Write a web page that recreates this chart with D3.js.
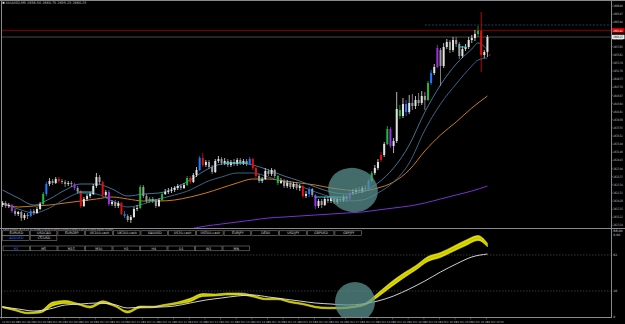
<!DOCTYPE html>
<html>
<head>
<meta charset="utf-8">
<script src="https://cdn.jsdelivr.net/npm/d3@7"></script>
<style>
body{margin:0;background:#000;}
svg{display:block;font-family:'DejaVu Sans',sans-serif;}
</style>
</head>
<body>
<script>
var open = [2618.25,2618.75,2618.0,2618.25,2616.75,2616.0,2616.5,2615.0,2615.75,2615.5,
2616.75,2616.25,2617.25,2618.5,2621.0,2623.5,2624.25,2623.75,2624.75,2624.25,
2624.0,2623.5,2623.75,2623.5,2622.5,2621.75,2618.0,2619.75,2620.5,2621.0,
2623.0,2625.25,2624.0,2620.75,2621.5,2618.5,2619.0,2618.0,2618.75,2616.0,
2615.5,2614.5,2615.25,2617.25,2617.5,2622.75,2620.5,2619.25,2619.75,2619.25,
2618.0,2619.5,2621.0,2621.5,2621.75,2622.0,2622.5,2623.0,2622.5,2623.25,
2625.0,2624.0,2625.75,2627.0,2630.0,2628.25,2629.0,2627.75,2626.5,2629.25,
2629.75,2628.75,2629.25,2628.25,2629.0,2628.5,2629.5,2628.75,2629.25,2628.5,
2629.75,2627.5,2625.5,2624.25,2624.75,2626.75,2626.0,2627.0,2625.5,2623.75,
2624.25,2623.0,2623.75,2622.75,2623.5,2622.5,2623.0,2620.5,2621.0,2622.25,
2620.75,2618.0,2619.25,2618.25,2619.75,2619.25,2620.0,2619.0,2619.75,2619.5,
2620.25,2619.75,2621.25,2621.5,2622.0,2621.75,2622.5,2622.25,2624.25,2626.25,
2627.5,2629.5,2630.75,2633.5,2637.25,2633.0,2634.25,2642.0,2640.5,2643.5,
2641.5,2643.75,2643.0,2644.5,2643.75,2645.5,2644.5,2648.75,2651.25,2652.75,
2657.0,2653.0,2657.75,2659.0,2657.0,2659.5,2658.5,2655.5,2657.25,2657.75,
2659.5,2660.0,2661.0,2661.75,2655.75,2656.5];
var high = [2619.25,2619.25,2618.75,2618.5,2617.25,2616.75,2616.75,2616.25,2616.25,2617.25,
2617.25,2617.75,2619.0,2621.5,2624.0,2625.0,2624.75,2625.25,2625.25,2624.75,
2624.5,2624.25,2624.25,2623.75,2623.0,2622.0,2620.25,2621.0,2621.5,2623.5,
2626.25,2625.75,2624.25,2622.0,2622.0,2619.5,2619.5,2619.25,2619.0,2616.75,
2616.0,2615.75,2617.75,2618.25,2623.25,2623.25,2621.0,2620.25,2620.25,2619.75,
2620.0,2621.5,2622.25,2622.5,2622.75,2623.0,2623.5,2623.5,2623.75,2625.5,
2625.5,2626.25,2627.75,2630.5,2631.25,2629.5,2629.5,2628.25,2629.75,2630.5,
2630.25,2630.0,2629.75,2629.5,2629.75,2630.0,2630.0,2629.75,2629.75,2630.25,
2630.0,2627.75,2626.0,2625.25,2627.5,2627.25,2627.5,2627.25,2625.75,2625.0,
2624.75,2624.5,2624.25,2624.0,2624.0,2623.5,2623.25,2621.75,2622.75,2622.5,
2621.0,2619.75,2619.75,2620.25,2620.5,2620.5,2620.5,2620.25,2620.25,2620.75,
2620.75,2621.75,2622.25,2622.5,2622.75,2623.0,2623.25,2624.75,2626.75,2628.25,
2629.75,2631.5,2634.0,2638.0,2637.75,2635.0,2646.5,2643.25,2645.0,2644.5,
2645.75,2646.0,2645.5,2646.25,2646.75,2646.5,2649.25,2652.0,2653.5,2658.25,
2657.5,2658.75,2659.75,2659.5,2660.25,2660.25,2659.0,2658.0,2658.5,2660.25,
2660.75,2662.0,2663.0,2666.5,2657.0,2660.75];
var low = [2617.75,2617.5,2617.5,2616.25,2615.5,2615.5,2614.25,2614.5,2614.75,2615.25,
2615.75,2616.0,2617.0,2618.25,2620.5,2623.0,2623.25,2623.5,2623.75,2623.5,
2622.75,2623.0,2622.75,2622.0,2621.25,2617.5,2617.75,2619.25,2620.0,2620.75,
2622.5,2623.5,2620.5,2620.25,2618.0,2618.0,2617.5,2617.5,2615.75,2615.0,
2614.0,2613.75,2615.0,2616.75,2617.25,2620.0,2618.75,2618.75,2618.75,2617.5,
2617.75,2619.25,2620.75,2621.0,2621.25,2621.5,2622.0,2622.0,2622.25,2623.0,
2623.5,2623.75,2625.25,2626.75,2627.75,2627.75,2627.25,2626.0,2626.25,2628.75,
2628.25,2628.25,2627.75,2627.75,2628.0,2628.0,2628.25,2628.25,2628.0,2628.25,
2627.0,2625.0,2623.75,2623.75,2624.5,2625.5,2625.5,2625.0,2623.25,2623.5,
2622.5,2622.5,2622.25,2622.25,2622.0,2621.75,2620.0,2620.0,2620.25,2620.25,
2617.25,2617.5,2617.5,2618.0,2618.75,2618.75,2618.5,2618.5,2619.0,2619.0,
2619.25,2619.5,2620.75,2621.0,2621.25,2621.25,2621.75,2622.0,2624.0,2625.75,
2627.0,2629.0,2630.25,2633.25,2632.5,2631.25,2633.75,2639.75,2640.0,2640.5,
2641.0,2642.0,2642.25,2643.0,2643.25,2642.0,2644.25,2648.25,2650.75,2652.5,
2648.0,2652.5,2657.25,2656.25,2656.5,2657.75,2654.75,2655.0,2656.75,2657.25,
2658.75,2659.25,2660.25,2651.5,2655.0,2655.25];
var close = [2618.75,2618.0,2618.25,2616.75,2616.0,2616.5,2615.0,2615.75,2615.5,2616.75,
2616.25,2617.25,2618.5,2621.0,2623.5,2624.25,2623.75,2624.75,2624.25,2624.0,
2623.5,2623.75,2623.5,2622.5,2621.75,2618.0,2619.75,2620.5,2621.0,2623.0,
2625.25,2624.0,2620.75,2621.5,2618.5,2619.0,2618.0,2618.75,2616.0,2615.5,
2614.5,2615.25,2617.25,2617.5,2622.75,2620.5,2619.25,2619.75,2619.25,2618.0,
2619.5,2621.0,2621.5,2621.75,2622.0,2622.5,2623.0,2622.5,2623.25,2625.0,
2624.0,2625.75,2627.0,2630.0,2628.25,2629.0,2627.75,2626.5,2629.25,2629.75,
2628.75,2629.25,2628.25,2629.0,2628.5,2629.5,2628.75,2629.25,2628.5,2629.75,
2627.5,2625.5,2624.25,2624.75,2626.75,2626.0,2627.0,2625.5,2623.75,2624.25,
2623.0,2623.75,2622.75,2623.5,2622.5,2623.0,2620.5,2621.0,2622.25,2620.75,
2618.0,2619.25,2618.25,2619.75,2619.25,2620.0,2619.0,2619.75,2619.5,2620.25,
2619.75,2621.25,2621.5,2622.0,2621.75,2622.5,2622.25,2624.25,2626.25,2627.5,
2629.0,2630.75,2633.5,2637.25,2633.0,2634.25,2642.25,2640.5,2643.5,2641.5,
2643.75,2643.0,2644.5,2643.75,2645.5,2644.5,2648.75,2651.25,2652.75,2657.5,
2653.0,2657.75,2659.0,2657.0,2659.5,2658.5,2655.5,2657.25,2657.75,2659.5,
2660.0,2661.0,2661.75,2655.75,2656.5,2660.25];

var signalBars = [3,9,13,14,18,23,25,32,34,38,39,44,47,51,59,60,63,64,79,80,81,88,96,98,100,111,117,118,121,123,124,127,129,136,137,139,152,153];
var signalTypes = ['P','B','G','B','R','P','R','R','P','R','B','G','G','G','G','R','B','R','B','R','R','G','R','B','P','P','B','G','R','G','P','G','B','G','B','P','G','R'];

var levelStart = [24, 47, 71, 82, 100, 146];
var levelEnd = [29, 49, 78, 83, 110, 148];
var levelPrice = [2621.5, 2619.5, 2628.75, 2624.5, 2620.25, 2657.75];

var maIdx = [0,5,10,15,20,25,30,35,40,45,50,55,60,65,70,75,80,85,90,95,100,105,110,115,120,125,130,135,140,145,150,152,155];
var maFast = [2622.0,2620.0,2618.25,2619.75,2622.0,2623.5,2623.5,2622.25,2620.5,2621.0,2621.25,2622.5,2624.5,2627.0,2628.5,2628.75,2628.25,2627.0,2625.5,2624.25,2622.75,2621.5,2621.0,2621.5,2623.75,2627.5,2633.25,2641.5,2648.25,2653.5,2657.25,2658.75,2657.0];
var maSlow = [2618.5,2617.25,2616.25,2617.5,2619.75,2621.25,2621.0,2619.25,2617.75,2618.5,2619.75,2620.75,2622.0,2624.0,2625.25,2626.25,2626.25,2625.25,2624.0,2623.0,2621.5,2620.25,2619.25,2619.5,2621.25,2624.0,2628.75,2637.0,2643.5,2648.5,2653.0,2654.5,2655.0];
var maOrange = [2618.75,2617.75,2618.0,2618.25,2618.75,2619.25,2619.75,2620.25,2619.75,2619.25,2619.25,2619.5,2620.25,2621.25,2622.5,2623.75,2624.75,2624.75,2624.25,2623.75,2623.25,2622.5,2622.0,2621.75,2622.5,2624.0,2627.0,2631.75,2635.75,2639.0,2642.5,2643.75,2645.5];
var purpleIdx = [60,65,70,75,80,85,90,95,100,105,110,115,120,125,130,135,140,145,150,155];
var maPurple = [2612.25,2613.0,2613.5,2614.0,2614.5,2615.0,2615.25,2615.5,2615.75,2616.0,2616.25,2616.5,2617.0,2617.5,2618.0,2618.75,2619.75,2620.75,2621.75,2623.0];

var oscIdx = [0,5,10,15,20,25,30,35,40,45,50,55,60,65,70,75,80,85,90,95,100,105,110,115,120,125,130,135,140,145,150,155];
var oscSignal = [10,8,6,8,12,13,14,13,9,10,10,11,14,17,19,21,22,20,18,16,14,13,12,13,16,21,28,36,45,53,60,63];
var ribIdx = [0,4,8,12,16,20,24,28,32,36,40,44,48,52,56,60,64,68,72,76,80,84,88,92,96,100,104,108,112,116,120,124,128,132,136,140,144,148,152,155];
var ribMid = [10,7,4,5,13,15,13,10,15,11,5,10,10,12,14,17,22,22,23,23,21,18,18,15,13,10,9,9,10,13,22,32,41,49,58,62,68,74,79,72];
var ribWidth = [1.5,1.5,1.5,2,4,3,1.5,2,2.5,1.5,2,2,1.5,1.5,2,3.5,3,2,2,2,2,1.5,1.5,1.5,1.5,1.5,1.5,1.5,1.5,2,4,5,5,4.5,5,5,5,5.5,5,3.5];
var oscLevels = [26, 62];

var priceTicks = [2668.00,2665.97,2663.94,2661.91,2659.88,2657.85,2655.82,2653.79,2651.76,2649.73,2647.70,2645.67,2643.64,2641.61,2639.58,2637.55,2635.52,2633.49,2631.46,2629.43,2627.40,2625.37,2623.34,2621.31,2619.28,2617.25,2615.22,2613.19];
var timeLabels = ['24 Oct 08:00','24 Oct 08:25','24 Oct 08:50','24 Oct 09:15','24 Oct 09:40','24 Oct 10:05','24 Oct 10:30','24 Oct 10:55','24 Oct 11:20','24 Oct 11:45','24 Oct 12:10','24 Oct 12:35','24 Oct 13:00','24 Oct 13:25','24 Oct 13:50','24 Oct 14:15','24 Oct 14:40','24 Oct 15:05','24 Oct 15:30','24 Oct 15:55','24 Oct 16:20','24 Oct 16:45','24 Oct 17:10','24 Oct 17:35','24 Oct 18:00','24 Oct 18:25','24 Oct 18:50','24 Oct 19:15','24 Oct 19:40','24 Oct 20:05','24 Oct 20:30','24 Oct 20:55'];
var symbols = ['EURUSD','USDCAD','EURGBP','US100.cash','UK100.cash','XAUUSD','US30.cash','US500.cash','EURJPY','DE40','USDJPY','GBPUSD','GBPJPY'];
var symbols2 = ['AUDUSD','LTCUSD'];
var periods = ['M1','M5','M15','M30','H1','H4','D1','W1','MN'];
var redLevel = 2661.92, farLevel = 2663.25;

var W = 625, H = 324, axisX = 611, mainBottom = 228, subTop = 229, subBottom = 317;
var sigColor = {G: '#1fb83c', B: '#1e7bff', R: '#e01010', P: '#9a2fe6'};

var x = d3.scaleLinear().domain([-0.5, 194.5]).range([1, axisX]);
var y = d3.scaleLinear().domain([2669.5, 2612.5]).range([0, mainBottom]);
var y2 = d3.scaleLinear().domain([0, 88]).range([subBottom, subTop]);

var svg = d3.select('body').append('svg').attr('width', W).attr('height', H).style('background', '#000');
var defs = svg.append('defs');
defs.append('clipPath').attr('id', 'cMain').append('rect').attr('x', 1).attr('y', 2).attr('width', axisX - 1).attr('height', mainBottom - 2);
defs.append('clipPath').attr('id', 'cSub').append('rect').attr('x', 1).attr('y', subTop).attr('width', axisX - 1).attr('height', subBottom - subTop);

var main = svg.append('g').attr('clip-path', 'url(#cMain)');
var sub = svg.append('g').attr('clip-path', 'url(#cSub)');

var bars = d3.range(close.length).map(function(i){
    var k = signalBars.indexOf(i);
    return {i: i, o: open[i], h: high[i], l: low[i], c: close[i], s: k < 0 ? null : signalTypes[k]};
});
var barColor = function(d){
    if(d.s) return sigColor[d.s];
    return d.c >= d.o ? '#e2e2e2' : '#9c9c9c';
};

main.append('line').attr('x1', x(135)).attr('x2', axisX).attr('y1', y(farLevel)).attr('y2', y(farLevel))
    .attr('stroke', '#2b4f66').attr('stroke-width', 0.8).attr('stroke-dasharray', '2,1.5');
main.append('line').attr('x1', 1).attr('x2', axisX).attr('y1', y(redLevel)).attr('y2', y(redLevel))
    .attr('stroke', '#8c0000').attr('stroke-width', 1);
main.append('line').attr('x1', 1).attr('x2', axisX).attr('y1', y(close[close.length - 1])).attr('y2', y(close[close.length - 1]))
    .attr('stroke', '#5a5a5a').attr('stroke-width', 0.8);

var maLine = function(idx, yy){
    return d3.line().x(function(d, k){ return x(idx[k]); }).y(function(d){ return yy(d); }).curve(d3.curveMonotoneX);
};
main.append('path').attr('d', maLine(purpleIdx, y)(maPurple)).attr('fill', 'none').attr('stroke', '#7b2fd6').attr('stroke-width', 1);
main.append('path').attr('d', maLine(maIdx, y)(maOrange)).attr('fill', 'none').attr('stroke', '#d07a1c').attr('stroke-width', 1);
main.append('path').attr('d', maLine(maIdx, y)(maSlow)).attr('fill', 'none').attr('stroke', '#3f6e95').attr('stroke-width', 0.9);
main.append('path').attr('d', maLine(maIdx, y)(maFast)).attr('fill', 'none').attr('stroke', '#4a7fa8').attr('stroke-width', 0.9);

main.selectAll('.wick').data(bars).enter().append('line')
    .attr('x1', function(d){ return x(d.i); }).attr('x2', function(d){ return x(d.i); })
    .attr('y1', function(d){ return y(d.h); }).attr('y2', function(d){ return y(d.l); })
    .attr('stroke', barColor).attr('stroke-width', 0.8);
main.selectAll('.body').data(bars).enter().append('rect')
    .attr('x', function(d){ return x(d.i) - 1; })
    .attr('y', function(d){ return y(Math.max(d.o, d.c)); })
    .attr('width', 2)
    .attr('height', function(d){ return Math.max(1, Math.abs(y(d.o) - y(d.c))); })
    .attr('fill', barColor);

levelStart.forEach(function(s, k){
    main.append('line').attr('x1', x(s) - 1).attr('x2', x(levelEnd[k]) + 1)
        .attr('y1', y(levelPrice[k])).attr('y2', y(levelPrice[k]))
        .attr('stroke', '#34c6cf').attr('stroke-width', 1);
});

main.append('ellipse').attr('cx', 353).attr('cy', 190).attr('rx', 25).attr('ry', 22)
    .attr('transform', 'rotate(12,353,190)')
    .attr('fill', '#5b9493').attr('opacity', 0.72);
main.append('text').attr('x', 488).attr('y', 56).attr('fill', '#d01010').attr('font-size', 4).text('↙');

// lower panel
oscLevels.forEach(function(v){
    sub.append('line').attr('x1', 1).attr('x2', axisX).attr('y1', y2(v)).attr('y2', y2(v))
        .attr('stroke', '#5a5a5a').attr('stroke-width', 0.6).attr('stroke-dasharray', '1.5,1.5');
});
var ribArea = d3.area()
    .x(function(d, k){ return x(ribIdx[k]); })
    .y0(function(d, k){ return y2(d - ribWidth[k] / 2); })
    .y1(function(d, k){ return y2(d + ribWidth[k] / 2); })
    .curve(d3.curveMonotoneX);
sub.append('path').attr('d', ribArea(ribMid)).attr('fill', '#dcd800').attr('stroke', '#ffff20').attr('stroke-width', 0.5);
sub.append('path').attr('d', maLine(ribIdx, y2)(ribMid)).attr('fill', 'none').attr('stroke', '#9a9400').attr('stroke-width', 0.4);
sub.append('path').attr('d', maLine(oscIdx, y2)(oscSignal)).attr('fill', 'none').attr('stroke', '#e8e8e8').attr('stroke-width', 0.9);
sub.append('circle').attr('cx', 355).attr('cy', 302).attr('r', 20).attr('fill', '#5b9493').attr('opacity', 0.72);

// frames
var frame = svg.append('g').attr('stroke', '#8a8a8a').attr('stroke-width', 1);
frame.append('line').attr('x1', 0).attr('x2', W).attr('y1', 0.5).attr('y2', 0.5);
frame.append('line').attr('x1', 1.5).attr('x2', 1.5).attr('y1', 0).attr('y2', subBottom);
frame.append('line').attr('x1', axisX + 0.5).attr('x2', axisX + 0.5).attr('y1', 0).attr('y2', subBottom + 1);
frame.append('line').attr('x1', 0).attr('x2', W).attr('y1', mainBottom + 0.5).attr('y2', mainBottom + 0.5);
frame.append('line').attr('x1', 0).attr('x2', axisX).attr('y1', subBottom + 0.5).attr('y2', subBottom + 0.5);

// price axis
var pAxis = svg.append('g');
var lab = function(sel){
    return sel.attr('font-size', 3.1).attr('textLength', 9.4).attr('lengthAdjust', 'spacingAndGlyphs');
};
pAxis.selectAll('.pt').data(priceTicks).enter().append('line')
    .attr('x1', axisX).attr('x2', axisX + 1.8).attr('y1', function(d){ return y(d); }).attr('y2', function(d){ return y(d); })
    .attr('stroke', '#8a8a8a').attr('stroke-width', 0.6);
lab(pAxis.selectAll('.pl').data(priceTicks).enter().append('text')
    .attr('x', axisX + 2.3).attr('y', function(d){ return y(d) + 1.2; })
    .attr('fill', '#c8c8c8').text(function(d){ return d.toFixed(2); }));
pAxis.append('rect').attr('x', axisX + 1).attr('y', y(redLevel) - 2.2).attr('width', 12.5).attr('height', 4.4).attr('fill', '#d40000');
lab(pAxis.append('text').attr('x', axisX + 2.3).attr('y', y(redLevel) + 1.2).attr('fill', '#fff').text(redLevel.toFixed(2)));
pAxis.append('rect').attr('x', axisX + 1).attr('y', y(close[close.length - 1]) - 2.2).attr('width', 12.5).attr('height', 4.4).attr('fill', '#eaeaea');
lab(pAxis.append('text').attr('x', axisX + 2.3).attr('y', y(close[close.length - 1]) + 1.2).attr('fill', '#000').text(close[close.length - 1].toFixed(2)));

pAxis.selectAll('.st').data(oscLevels.concat([0])).enter().append('text')
    .attr('x', axisX + 2.3).attr('y', function(d){ return y2(d) + 1.2; })
    .attr('fill', '#c8c8c8').attr('font-size', 3.1).text(function(d){ return d; });
lab(pAxis.append('text').attr('x', axisX + 2.3).attr('y', y2(88) + 3).attr('fill', '#c8c8c8').text('88.00'));
pAxis.append('text').attr('x', axisX + 2.3).attr('y', y2(88) + 6.5).attr('fill', '#c8c8c8').attr('font-size', 3.1).text('0.00');

// time axis
var tAxis = svg.append('g');
timeLabels.forEach(function(t, k){
    var xi = x(k * 5) - 1;
    tAxis.append('line').attr('x1', xi).attr('x2', xi).attr('y1', subBottom + 1).attr('y2', subBottom + 2.5)
        .attr('stroke', '#8a8a8a').attr('stroke-width', 0.5);
    tAxis.append('text').attr('x', xi + 0.5).attr('y', 322.5).attr('fill', '#bdbdbd').attr('font-size', 2.6).text(t);
});

// captions
svg.append('rect').attr('x', 2.5).attr('y', 1.8).attr('width', 2).attr('height', 2).attr('fill', '#ddd');
svg.append('text').attr('x', 5.5).attr('y', 4).attr('fill', '#c0c0c0').attr('font-size', 3.4)
    .text('XAUUSD,M5  2656.50 2660.75 2655.25 2660.25');
svg.append('text').attr('x', 2.5).attr('y', 230.3).attr('fill', '#c0c0c0').attr('font-size', 2.4)
    .text('Trend Ribbon (8,13,21,34,55,89) 0.0000 0.0000 0.0000 0.0000 0.0000 0.0000 Signal 0.0000');

var btn = svg.append('g').attr('font-size', 3.3).attr('text-anchor', 'middle');
var cellW = 27.7;
symbols.forEach(function(s, k){
    btn.append('rect').attr('x', 2.5 + k * cellW).attr('y', 230.8).attr('width', cellW - 1).attr('height', 4.6)
        .attr('fill', '#000').attr('stroke', '#9a9a9a').attr('stroke-width', 0.5);
    btn.append('text').attr('x', 2.5 + k * cellW + cellW / 2).attr('y', 234.2).attr('fill', '#d8d8d8').text(s);
});
symbols2.forEach(function(s, k){
    btn.append('rect').attr('x', 2.5 + k * cellW).attr('y', 235.8).attr('width', cellW - 1).attr('height', 4.6)
        .attr('fill', '#000').attr('stroke', '#9a9a9a').attr('stroke-width', 0.5);
    btn.append('text').attr('x', 2.5 + k * cellW + cellW / 2).attr('y', 239.2).attr('fill', k === 0 ? '#3a62ff' : '#d8d8d8').text(s);
});
periods.forEach(function(s, k){
    btn.append('rect').attr('x', 3 + k * 27.5).attr('y', 246).attr('width', 26.5).attr('height', 4.8)
        .attr('fill', '#000').attr('stroke', '#9a9a9a').attr('stroke-width', 0.5);
    btn.append('text').attr('x', 3 + k * 27.5 + 13.25).attr('y', 249.6).attr('fill', k === 0 ? '#3a62ff' : '#d8d8d8').text(s);
});
</script>
</body>
</html>
